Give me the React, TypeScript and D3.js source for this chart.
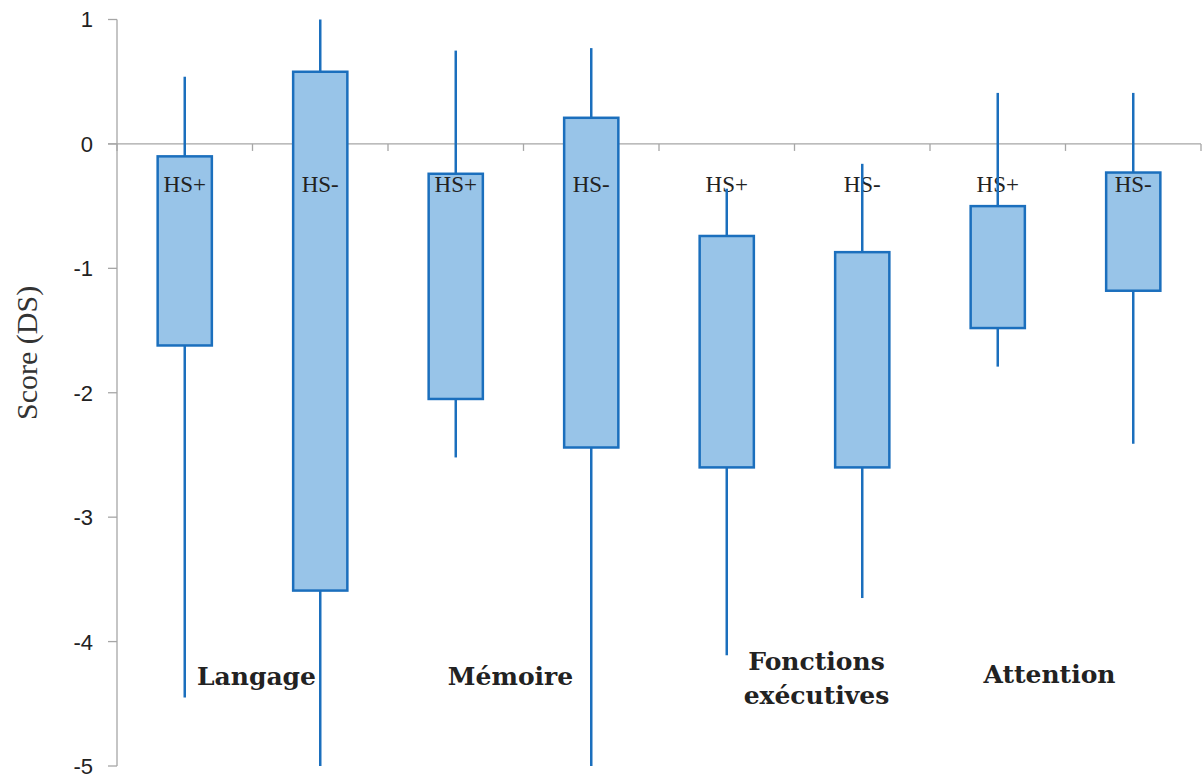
import React, { useRef, useEffect } from 'react';
import * as d3 from 'd3';

// one entry per box, left to right
const groups = ['HS+', 'HS-', 'HS+', 'HS-', 'HS+', 'HS-', 'HS+', 'HS-'];
const whiskerTop = [0.54, 1.0, 0.75, 0.77, -0.36, -0.16, 0.41, 0.41];
const boxTop = [-0.1, 0.58, -0.24, 0.21, -0.74, -0.87, -0.5, -0.23];
const boxBottom = [-1.62, -3.59, -2.05, -2.44, -2.6, -2.6, -1.48, -1.18];
const whiskerBottom = [-4.45, -5.0, -2.52, -5.0, -4.11, -3.65, -1.79, -2.41];

// domain labels sit between the two boxes of each pair
const domains = [['Langage'], ['Mémoire'], ['Fonctions', 'exécutives'], ['Attention']];
const domainShift = [4, -13, 22, -16];
const domainY = [-4.35, -4.35, -4.23, -4.33];

const yTicks = [1, 0, -1, -2, -3, -4, -5];

const W = 1203;
const H = 776;
const margin = { top: 19.5, right: 2, bottom: 10, left: 117 };

const App = () => {
    const ref = useRef<SVGSVGElement>(null);

    useEffect(() => {
        const svg = d3.select(ref.current);
        svg.selectAll('*').remove();

        const x = d3.scaleBand<number>()
            .domain(d3.range(groups.length))
            .range([margin.left, W - margin.right])
            .paddingInner(0.6)
            .paddingOuter(0.3);
        const step = x.step();

        const y = d3.scaleLinear()
            .domain([-5, 1])
            .range([H - margin.bottom, margin.top]);

        const grey = '#a6a6a6';
        const blue = '#1b6fbd';

        // y axis
        svg.append('line')
            .attr('x1', margin.left).attr('x2', margin.left)
            .attr('y1', y(1)).attr('y2', y(-5))
            .attr('stroke', grey).attr('stroke-width', 1.3);

        svg.selectAll('.ytick')
            .data(yTicks)
            .enter()
            .append('line')
            .attr('x1', margin.left - 9).attr('x2', margin.left)
            .attr('y1', d => y(d)).attr('y2', d => y(d))
            .attr('stroke', grey).attr('stroke-width', 1.3);

        svg.selectAll('.ylabel')
            .data(yTicks)
            .enter()
            .append('text')
            .attr('x', margin.left - 24)
            .attr('y', d => y(d))
            .attr('dy', '0.36em')
            .attr('text-anchor', 'end')
            .attr('font-family', 'Liberation Sans, Arial, sans-serif')
            .attr('font-size', 22)
            .attr('fill', '#222')
            .text(d => d);

        // zero line with category ticks
        svg.append('line')
            .attr('x1', margin.left - 9).attr('x2', W - margin.right)
            .attr('y1', y(0)).attr('y2', y(0))
            .attr('stroke', grey).attr('stroke-width', 1.3);

        const catTicks = d3.range(groups.length + 1).map(i => margin.left + i * step);
        svg.selectAll('.xtick')
            .data(catTicks)
            .enter()
            .append('line')
            .attr('x1', d => d).attr('x2', d => d)
            .attr('y1', y(0)).attr('y2', y(0) + 7)
            .attr('stroke', grey).attr('stroke-width', 1.3);

        // axis title
        svg.append('text')
            .attr('transform', `translate(37,${y(-1.68)}) rotate(-90)`)
            .attr('text-anchor', 'middle')
            .attr('font-family', 'Liberation Serif, serif')
            .attr('font-size', 30)
            .attr('fill', '#333')
            .text('Score (DS)');

        const cx = (i: number) => (x(i) as number) + x.bandwidth() / 2;

        // boxes
        svg.selectAll('.box')
            .data(groups)
            .enter()
            .append('rect')
            .attr('x', (d, i) => x(i) as number)
            .attr('y', (d, i) => y(boxTop[i]))
            .attr('width', x.bandwidth())
            .attr('height', (d, i) => y(boxBottom[i]) - y(boxTop[i]))
            .attr('fill', '#98c4e8')
            .attr('stroke', blue)
            .attr('stroke-width', 2.5);

        // group labels
        svg.selectAll('.group')
            .data(groups)
            .enter()
            .append('text')
            .attr('x', (d, i) => cx(i))
            .attr('y', y(-0.39))
            .attr('text-anchor', 'middle')
            .attr('font-family', 'Liberation Serif, DejaVu Serif, serif')
            .attr('font-size', 23)
            .attr('fill', '#222')
            .text(d => d);

        // whiskers
        svg.selectAll('.wtop')
            .data(groups)
            .enter()
            .append('line')
            .attr('x1', (d, i) => cx(i)).attr('x2', (d, i) => cx(i))
            .attr('y1', (d, i) => y(whiskerTop[i]))
            .attr('y2', (d, i) => y(boxTop[i]))
            .attr('stroke', blue).attr('stroke-width', 2.5);

        svg.selectAll('.wbot')
            .data(groups)
            .enter()
            .append('line')
            .attr('x1', (d, i) => cx(i)).attr('x2', (d, i) => cx(i))
            .attr('y1', (d, i) => y(boxBottom[i]))
            .attr('y2', (d, i) => y(whiskerBottom[i]))
            .attr('stroke', blue).attr('stroke-width', 2.5);

        // domain names
        const dom = svg.selectAll('.domain')
            .data(domains)
            .enter()
            .append('text')
            .attr('text-anchor', 'middle')
            .attr('font-family', 'DejaVu Serif, serif')
            .attr('font-weight', 'bold')
            .attr('font-size', 25)
            .attr('fill', '#222')
            .attr('x', (d, i) => margin.left + (2 * i + 1) * step + domainShift[i])
            .attr('y', (d, i) => y(domainY[i]));

        dom.selectAll('tspan')
            .data((d, i) => d.map(t => ({ t, x: margin.left + (2 * i + 1) * step + domainShift[i] })))
            .enter()
            .append('tspan')
            .attr('x', d => d.x)
            .attr('dy', (d, j) => (j === 0 ? 0 : 34))
            .text(d => d.t);
    }, []);

    return (
        <svg
            ref={ref}
            width={W}
            height={H}
            style={{ position: 'absolute', left: 0, top: 0, background: '#fff' }}
        ></svg>
    );
};

export default App;
